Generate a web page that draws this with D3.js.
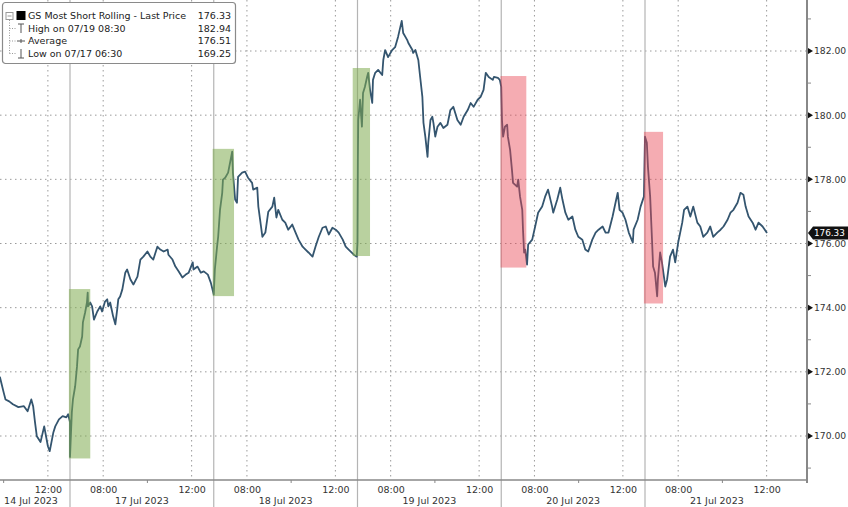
<!DOCTYPE html>
<html><head><meta charset="utf-8">
<script src="https://cdn.jsdelivr.net/npm/d3@7"></script>
<style>
body{margin:0;background:#fff;}
svg{display:block;font-family:"DejaVu Sans",Verdana,sans-serif;}
</style>
</head><body>
<svg id="c" width="848" height="507"></svg>
<script>
// ---------------- DATA ----------------
const dayKeys   = ["07/14","07/17","07/18","07/19","07/20","07/21"];
const dayLabels = ["14 Jul 2023","17 Jul 2023","18 Jul 2023","19 Jul 2023","20 Jul 2023","21 Jul 2023"];
const sessionOpen = "06:30";
const sessionClose = "13:00";
const majorTimeTicks = ["08:00","12:00"];
const minorTimeTicks = ["10:00"];
const priceTicks = [170,172,174,176,178,180,182];
const minorPriceTicks = [169,171,173,175,177,179,181,183];

const times = [
"07/14 09:45","07/14 09:50","07/14 10:00","07/14 10:05","07/14 10:15","07/14 10:25","07/14 10:40","07/14 10:55","07/14 11:05","07/14 11:15","07/14 11:20","07/14 11:25","07/14 11:30","07/14 11:40","07/14 11:50","07/14 12:00","07/14 12:05","07/14 12:15","07/14 12:20","07/14 12:30","07/14 12:40","07/14 12:50","07/14 12:55","07/14 13:00",
"07/17 06:30","07/17 06:35","07/17 06:38","07/17 06:44","07/17 06:49","07/17 06:52","07/17 06:57","07/17 07:03","07/17 07:05","07/17 07:11","07/17 07:16","07/17 07:18","07/17 07:19","07/17 07:25","07/17 07:30","07/17 07:35","07/17 07:44","07/17 07:52","07/17 07:57","07/17 08:05","07/17 08:11","07/17 08:14","07/17 08:19","07/17 08:27","07/17 08:33","07/17 08:38","07/17 08:41","07/17 08:46","07/17 08:52","07/17 09:00","07/17 09:05","07/17 09:14","07/17 09:22","07/17 09:33","07/17 09:41","07/17 09:49","07/17 10:00","07/17 10:08","07/17 10:16","07/17 10:27","07/17 10:35","07/17 10:44","07/17 10:55","07/17 10:57","07/17 11:08","07/17 11:16","07/17 11:25","07/17 11:35","07/17 11:44","07/17 11:52","07/17 12:03","07/17 12:05","07/17 12:16","07/17 12:25","07/17 12:33","07/17 12:44","07/17 12:52","07/17 13:00",
"07/18 06:33","07/18 06:39","07/18 06:42","07/18 06:47","07/18 06:53","07/18 06:55","07/18 07:01","07/18 07:09","07/18 07:20","07/18 07:22","07/18 07:28","07/18 07:33","07/18 07:36","07/18 07:47","07/18 07:55","07/18 08:03","07/18 08:14","07/18 08:17","07/18 08:28","07/18 08:31","07/18 08:42","07/18 08:50","07/18 08:58","07/18 09:09","07/18 09:14","07/18 09:20","07/18 09:25","07/18 09:36","07/18 09:44","07/18 09:52","07/18 10:03","07/18 10:12","07/18 10:20","07/18 10:31","07/18 10:39","07/18 10:47","07/18 10:58","07/18 11:06","07/18 11:15","07/18 11:25","07/18 11:34","07/18 11:42","07/18 11:52","07/18 12:01","07/18 12:09","07/18 12:20","07/18 12:28","07/18 12:36","07/18 12:50","07/18 12:58",
"07/19 06:30","07/19 06:31","07/19 06:32","07/19 06:37","07/19 06:42","07/19 06:45","07/19 06:50","07/19 06:56","07/19 06:59","07/19 07:04","07/19 07:10","07/19 07:12","07/19 07:18","07/19 07:26","07/19 07:37","07/19 07:40","07/19 07:45","07/19 07:53","07/19 08:04","07/19 08:12","07/19 08:20","07/19 08:30","07/19 08:34","07/19 08:45","07/19 08:48","07/19 08:59","07/19 09:01","07/19 09:07","07/19 09:15","07/19 09:20","07/19 09:26","07/19 09:29","07/19 09:34","07/19 09:40","07/19 09:42","07/19 09:48","07/19 09:53","07/19 09:56","07/19 10:01","07/19 10:07","07/19 10:15","07/19 10:23","07/19 10:34","07/19 10:42","07/19 10:50","07/19 11:01","07/19 11:10","07/19 11:18","07/19 11:29","07/19 11:37","07/19 11:45","07/19 11:56","07/19 12:04","07/19 12:12","07/19 12:18","07/19 12:26","07/19 12:37","07/19 12:40","07/19 12:51","07/19 12:56",
"07/20 06:30","07/20 06:32","07/20 06:35","07/20 06:40","07/20 06:46","07/20 06:48","07/20 06:54","07/20 06:59","07/20 07:02","07/20 07:13","07/20 07:16","07/20 07:21","07/20 07:27","07/20 07:29","07/20 07:32","07/20 07:35","07/20 07:40","07/20 07:43","07/20 07:54","07/20 08:02","07/20 08:10","07/20 08:21","07/20 08:29","07/20 08:37","07/20 08:48","07/20 08:51","07/20 09:02","07/20 09:10","07/20 09:16","07/20 09:24","07/20 09:32","07/20 09:43","07/20 09:51","07/20 09:59","07/20 10:10","07/20 10:18","07/20 10:26","07/20 10:37","07/20 10:46","07/20 10:54","07/20 11:05","07/20 11:13","07/20 11:21","07/20 11:32","07/20 11:40","07/20 11:46","07/20 11:51","07/20 11:59","07/20 12:07","07/20 12:16","07/20 12:27","07/20 12:29","07/20 12:40","07/20 12:48","07/20 12:57",
"07/21 06:30","07/21 06:35","07/21 06:38","07/21 06:44","07/21 06:49","07/21 06:52","07/21 06:57","07/21 07:03","07/21 07:05","07/21 07:11","07/21 07:16","07/21 07:25","07/21 07:30","07/21 07:38","07/21 07:46","07/21 07:52","07/21 08:00","07/21 08:11","07/21 08:16","07/21 08:25","07/21 08:33","07/21 08:41","07/21 08:52","07/21 09:00","07/21 09:08","07/21 09:19","07/21 09:27","07/21 09:35","07/21 09:46","07/21 09:55","07/21 10:03","07/21 10:14","07/21 10:22","07/21 10:30","07/21 10:41","07/21 10:49","07/21 10:57","07/21 11:03","07/21 11:11","07/21 11:22","07/21 11:30","07/21 11:38","07/21 11:49","07/21 12:01"
];
const prices = [
171.85,171.83,171.36,171.14,171.08,170.99,170.90,170.93,170.77,171.14,170.93,170.43,169.99,169.81,170.30,169.68,169.53,170.12,170.30,170.52,170.62,170.58,170.68,170.43,
169.35,170.74,171.14,171.55,172.17,172.70,172.79,173.10,173.54,173.85,174.16,174.47,174.04,174.16,174.04,173.63,173.88,174.04,173.88,174.19,174.26,174.04,174.16,173.73,173.48,173.94,174.26,174.35,174.57,175.09,175.19,174.88,174.72,174.97,175.50,175.59,175.75,175.59,175.50,175.90,175.81,175.75,175.81,175.65,175.50,175.28,175.13,174.94,175.03,175.09,175.41,175.19,175.28,175.09,175.13,175.03,174.78,174.41,
175.19,175.90,176.21,177.05,177.58,177.99,178.05,178.21,178.86,178.21,177.37,177.27,178.08,178.21,178.24,178.05,177.89,177.68,177.74,177.15,176.21,176.34,176.99,177.15,177.43,176.81,177.05,176.74,176.65,176.43,176.59,176.34,176.12,175.90,175.81,175.72,175.59,175.90,176.21,176.49,176.53,176.28,176.49,176.43,176.34,176.12,175.90,175.81,175.65,175.59,
176.03,178.61,179.85,180.48,179.64,180.69,180.88,181.19,181.32,180.79,180.38,181.10,181.32,181.41,181.25,181.72,182.03,181.81,182.03,182.12,182.44,182.94,182.56,182.34,182.25,182.03,181.94,182.03,181.72,181.19,180.57,179.76,179.33,178.70,179.14,179.85,179.95,179.76,179.33,179.64,179.76,179.60,179.70,180.16,180.26,179.85,179.70,179.95,180.16,180.38,180.26,180.48,180.57,180.79,181.32,181.19,181.10,181.19,181.16,181.10,
180.88,179.85,179.33,179.64,179.70,179.33,178.92,178.30,177.89,177.77,177.99,177.46,177.05,176.43,175.72,175.81,175.34,175.97,176.12,176.53,176.96,177.15,177.46,177.68,177.15,176.96,177.37,177.74,177.37,176.96,176.74,176.84,176.43,176.21,176.12,175.81,175.75,176.12,176.34,176.43,176.53,176.34,176.34,176.84,177.27,177.58,177.05,176.96,176.74,176.34,176.03,176.43,176.74,177.15,177.46,
179.33,179.14,178.39,177.46,176.12,175.28,175.09,174.35,174.88,175.72,175.41,174.66,174.88,175.59,175.81,175.41,176.03,176.65,177.05,177.15,176.84,177.15,176.65,176.53,176.21,176.34,176.53,176.21,176.34,176.43,176.53,176.74,176.96,177.05,177.27,177.58,177.52,177.15,176.84,176.65,176.43,176.65,176.53,176.33
];

// highlighted zones
const zoneStart  = ["07/14 12:57","07/17 12:57","07/18 12:47","07/19 12:58","07/20 12:57"];
const zoneEnd    = ["07/17 07:25","07/18 07:25","07/19 07:04","07/20 07:38","07/21 07:19"];
const zoneTop    = [174.58,178.95,181.47,181.22,179.48];
const zoneBottom = [169.30,174.36,175.61,175.25,174.13];
const zoneKind   = ["up","up","up","down","down"];

const legendLabels = ["GS Most Short Rolling - Last Price","High on 07/19 08:30","Average","Low on 07/17 06:30"];
const legendValues = ["176.33","182.94","176.51","169.25"];
const lastPrice = 176.33;

// ---------------- CHART ----------------
const W = 848, H = 507;
const plotRight = 807, plotBottom = 480;
const svg = d3.select("#c");

const hm = s => { const [h,m] = s.split(":").map(Number); return h*60+m; };
const openMin = hm(sessionOpen), sessLen = hm(sessionClose) - hm(sessionOpen);
const sm = t => dayKeys.indexOf(t.slice(0,5))*sessLen + hm(t.slice(6)) - openMin;

const x = d3.scaleLinear().domain([0, dayKeys.length*sessLen]).range([-73.75, 788.75]);
const y = d3.scaleLinear().domain([170, 182]).range([436, 51]);

svg.append("defs").append("clipPath").attr("id","clip")
  .append("rect").attr("x",0).attr("y",0).attr("width",plotRight).attr("height",plotBottom);

// horizontal grid
svg.append("g").selectAll("line").data(priceTicks).join("line")
  .attr("x1",0).attr("x2",plotRight).attr("y1",d=>y(d)).attr("y2",d=>y(d))
  .attr("stroke","#9a9a9a").attr("stroke-width",1).attr("stroke-dasharray","1.5,3.5");

// vertical grid at major time ticks
const majorTicksX = [];
dayKeys.forEach((k,i)=> majorTimeTicks.forEach(t=> majorTicksX.push({v: sm(k+" "+t), label: t})));
const minorTicksX = [];
dayKeys.forEach((k,i)=> minorTimeTicks.forEach(t=> minorTicksX.push(sm(k+" "+t))));
const visMajor = majorTicksX.filter(d=> x(d.v) >= 0 && x(d.v) <= plotRight);
svg.append("g").selectAll("line").data(visMajor).join("line")
  .attr("x1",d=>x(d.v)).attr("x2",d=>x(d.v)).attr("y1",0).attr("y2",plotBottom)
  .attr("stroke","#9a9a9a").attr("stroke-width",1).attr("stroke-dasharray","1.5,3.5");

// day separators
const seps = dayKeys.slice(1).map((k,i)=> (i+1)*sessLen);
svg.append("g").selectAll("line").data(seps).join("line")
  .attr("x1",d=>x(d)).attr("x2",d=>x(d)).attr("y1",0).attr("y2",H)
  .attr("stroke","#b4b4b4").attr("stroke-width",1.2);

// price line
const data = times.map((t,i)=>({t, v: prices[i]}));
svg.append("path").datum(data).attr("clip-path","url(#clip)")
  .attr("fill","none").attr("stroke","#34556f").attr("stroke-width",1.8)
  .attr("stroke-linejoin","round")
  .attr("d", d3.line().x(d=>x(sm(d.t))).y(d=>y(d.v)));

// highlight zones (on top, translucent)
const zones = zoneStart.map((s,i)=>({s, e: zoneEnd[i], top: zoneTop[i], bot: zoneBottom[i], kind: zoneKind[i]}));
svg.append("g").attr("clip-path","url(#clip)").selectAll("rect").data(zones).join("rect")
  .attr("x",d=>x(sm(d.s))).attr("width",d=>x(sm(d.e))-x(sm(d.s)))
  .attr("y",d=>y(d.top)).attr("height",d=>y(d.bot)-y(d.top))
  .attr("fill",d=> d.kind==="up" ? "rgb(128,172,80)" : "rgb(232,72,84)")
  .attr("fill-opacity",d=> d.kind==="up" ? 0.55 : 0.45);

// bottom axis
const xAxis = d3.axisBottom(x).tickValues(visMajor.map(d=>d.v))
  .tickFormat((d,i)=> visMajor[i].label).tickSize(0).tickPadding(6);
const gx = svg.append("g").attr("transform",`translate(0,${plotBottom})`).call(xAxis);
gx.select(".domain").remove();
gx.selectAll("text").attr("font-size",9.5).attr("fill","#333").attr("font-family","DejaVu Sans, sans-serif");
svg.append("line").attr("x1",0).attr("x2",plotRight+1).attr("y1",plotBottom).attr("y2",plotBottom)
  .attr("stroke","#888").attr("stroke-width",1.5);
svg.append("g").selectAll("line").data(minorTicksX.filter(v=>x(v)>=0&&x(v)<=plotRight)).join("line")
  .attr("x1",d=>x(d)).attr("x2",d=>x(d)).attr("y1",plotBottom).attr("y2",plotBottom+3)
  .attr("stroke","#888");

// date labels
svg.append("g").selectAll("text").data(dayLabels).join("text")
  .attr("x",(d,i)=>{ const a=Math.max(0,x(i*sessLen)), b=Math.min(plotRight,x((i+1)*sessLen)); return (a+b)/2 - (x(i*sessLen)<0?4:0); })
  .attr("y",504).attr("text-anchor","middle").attr("font-size",9.5).attr("fill","#333").text(d=>d);

// right axis
const yAxis = d3.axisRight(y).tickValues(priceTicks).tickFormat(d3.format(".2f")).tickSize(0).tickPadding(7);
const gy = svg.append("g").attr("transform",`translate(${plotRight},0)`).call(yAxis);
gy.select(".domain").remove();
gy.selectAll("text").attr("font-size",9.2).attr("fill","#333").attr("font-family","DejaVu Sans, sans-serif");
svg.append("line").attr("x1",plotRight).attr("x2",plotRight).attr("y1",0).attr("y2",plotBottom+3)
  .attr("stroke","#888").attr("stroke-width",2);
svg.append("g").selectAll("path").data(priceTicks).join("path")
  .attr("d",d=>`M${plotRight+1},${y(d)-3}L${plotRight+6},${y(d)}L${plotRight+1},${y(d)+3}Z`).attr("fill","#111");
svg.append("g").selectAll("line").data(minorPriceTicks).join("line")
  .attr("x1",plotRight).attr("x2",plotRight+4).attr("y1",d=>y(d)).attr("y2",d=>y(d))
  .attr("stroke","#888");

// last price tag
const ly = y(lastPrice);
svg.append("path").attr("d",`M${plotRight+1},${ly}L${plotRight+6},${ly-6.5}L${W},${ly-6.5}L${W},${ly+6.5}L${plotRight+6},${ly+6.5}Z`).attr("fill","#111");
svg.append("text").attr("x",plotRight+7).attr("y",ly).attr("dy","0.35em").attr("font-size",8.8)
  .attr("fill","#fff").text(d3.format(".2f")(lastPrice));

// legend
const lg = svg.append("g");
lg.append("rect").attr("x",2.5).attr("y",2.5).attr("width",233).attr("height",61).attr("rx",3)
  .attr("fill","#fff").attr("stroke","#8a8a8a").attr("stroke-width",1.2);
const rowY = [16,28.5,41,53.5];
lg.append("line").attr("x1",9.5).attr("x2",9.5).attr("y1",20).attr("y2",rowY[3])
  .attr("stroke","#999").attr("stroke-dasharray","1,1.5");
rowY.slice(1).forEach(ry=> lg.append("line").attr("x1",9.5).attr("x2",16).attr("y1",ry).attr("y2",ry)
  .attr("stroke","#999").attr("stroke-dasharray","1,1.5"));
lg.append("rect").attr("x",6).attr("y",12.5).attr("width",7).attr("height",7).attr("fill","#fff").attr("stroke","#999");
lg.append("line").attr("x1",7.5).attr("x2",11.5).attr("y1",16).attr("y2",16).attr("stroke","#999");
lg.append("rect").attr("x",16.5).attr("y",11).attr("width",9).attr("height",9).attr("fill","#000");
lg.append("path").attr("d",`M18,${rowY[1]-4.5}H24M21,${rowY[1]-4.5}V${rowY[1]+4.5}`).attr("stroke","#555").attr("fill","none");
lg.append("path").attr("d",`M17,${rowY[2]}H25M21,${rowY[2]-2}V${rowY[2]+2}`).attr("stroke","#555").attr("fill","none");
lg.append("path").attr("d",`M21,${rowY[3]-4.5}V${rowY[3]+4.5}M18,${rowY[3]+4.5}H24`).attr("stroke","#555").attr("fill","none");
lg.selectAll("text.l").data(legendLabels).join("text").attr("class","l")
  .attr("x",28).attr("y",(d,i)=>rowY[i]).attr("dy","0.35em").attr("font-size",9.5).attr("fill","#222").text(d=>d);
lg.selectAll("text.v").data(legendValues).join("text").attr("class","v")
  .attr("x",231).attr("y",(d,i)=>rowY[i]).attr("dy","0.35em").attr("text-anchor","end")
  .attr("font-size",9.5).attr("fill","#222").text(d=>d);
</script>
</body></html>
